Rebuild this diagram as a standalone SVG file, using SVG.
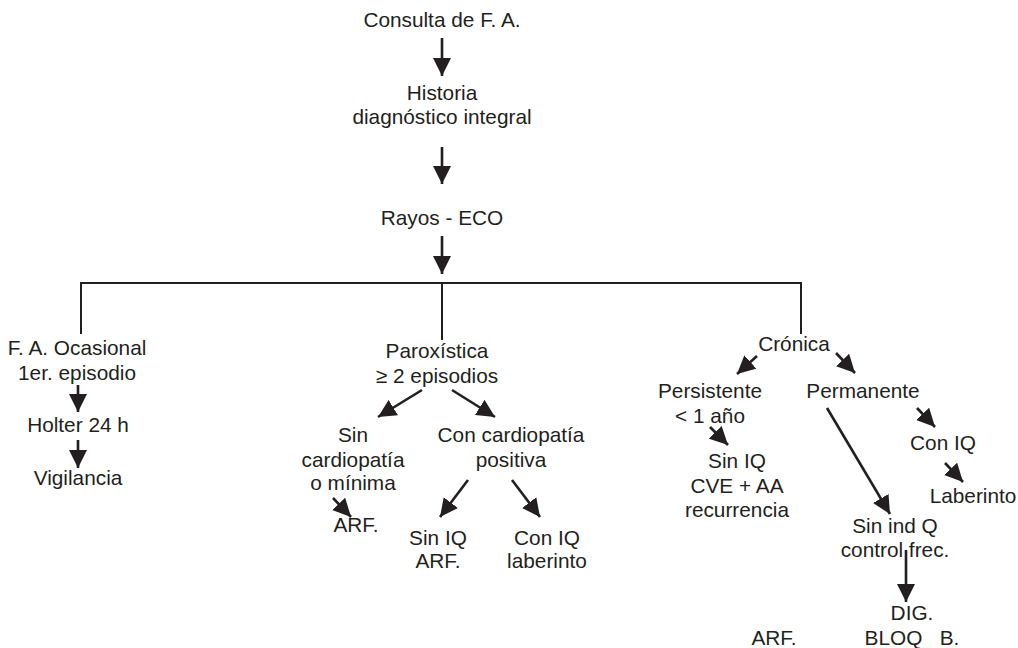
<svg xmlns="http://www.w3.org/2000/svg" width="1018" height="648" viewBox="0 0 1018 648">
<style>
text{font-family:"Liberation Sans",Arial,sans-serif;font-size:20.8px;fill:#231f20;text-anchor:middle}
.c line{stroke:#231f20;stroke-width:2.6;fill:none}
.c .h{stroke-width:2}
.c .a{marker-end:url(#ah)}
</style>
<defs>
<marker id="ah" markerUnits="userSpaceOnUse" markerWidth="19" markerHeight="19" refX="18" refY="9" orient="auto" viewBox="0 0 19 18">
<path d="M0,0 L18,9 L0,18 z" fill="#231f20"/>
</marker>
</defs>
<rect width="1018" height="648" fill="#fff"/>
<g id="connectors" class="c">
<line class="a" x1="442" y1="38" x2="442" y2="76"/>
<line class="a" x1="442" y1="147" x2="442" y2="184"/>
<line class="a" x1="442" y1="236" x2="442" y2="274"/>
<line class="h" x1="80" y1="283" x2="801" y2="283"/>
<line class="h" x1="81" y1="282" x2="81" y2="334"/>
<line class="h" x1="442" y1="283" x2="442" y2="340"/>
<line class="h" x1="801" y1="282" x2="801" y2="334"/>
<line class="a" x1="78" y1="385" x2="78" y2="412"/>
<line class="a" x1="78" y1="440" x2="78" y2="468"/>
<line class="a" x1="422" y1="390" x2="378" y2="417"/>
<line class="a" x1="452" y1="390" x2="495" y2="417"/>
<line class="a" x1="333" y1="498" x2="351" y2="517"/>
<line class="a" x1="468" y1="480" x2="440" y2="517"/>
<line class="a" x1="512" y1="480" x2="540" y2="517"/>
<line class="a" x1="757" y1="356" x2="737" y2="374"/>
<line class="a" x1="836" y1="353" x2="855" y2="373"/>
<line class="a" x1="710" y1="427" x2="728" y2="445"/>
<line class="a" x1="827" y1="408" x2="890" y2="514"/>
<line class="a" x1="917" y1="408" x2="935" y2="427"/>
<line class="a" x1="945" y1="463" x2="963" y2="482"/>
<line class="a" x1="906" y1="550" x2="906" y2="602"/>
</g>
<g id="n-consulta"><text x="442" y="27">Consulta de F. A.</text></g>
<g id="n-historia"><text x="442" y="100">Historia</text><text x="442" y="124">diagnóstico integral</text></g>
<g id="n-rayos"><text x="442" y="225">Rayos - ECO</text></g>
<g id="n-ocasional"><text x="77" y="355">F. A. Ocasional</text><text x="77" y="380">1er. episodio</text></g>
<g id="n-holter"><text x="78" y="432">Holter 24 h</text></g>
<g id="n-vigilancia"><text x="78" y="485">Vigilancia</text></g>
<g id="n-paroxistica"><text x="437" y="358">Paroxística</text><text x="437" y="383">≥ 2 episodios</text></g>
<g id="n-sincardio"><text x="353" y="442">Sin</text><text x="353" y="467">cardiopatía</text><text x="353" y="490">o mínima</text></g>
<g id="n-arf1"><text x="356" y="532">ARF.</text></g>
<g id="n-concardio"><text x="511" y="442">Con cardiopatía</text><text x="511" y="467">positiva</text></g>
<g id="n-siniq1"><text x="438" y="545">Sin IQ</text><text x="438" y="568">ARF.</text></g>
<g id="n-coniq1"><text x="547" y="545">Con IQ</text><text x="547" y="568">laberinto</text></g>
<g id="n-cronica"><text x="794" y="351">Crónica</text></g>
<g id="n-persistente"><text x="710" y="398">Persistente</text><text x="710" y="423">&lt; 1 año</text></g>
<g id="n-siniq2"><text x="737" y="468">Sin IQ</text><text x="737" y="493">CVE + AA</text><text x="737" y="517">recurrencia</text></g>
<g id="n-permanente"><text x="863" y="398">Permanente</text></g>
<g id="n-coniq2"><text x="943" y="450">Con IQ</text></g>
<g id="n-laberinto"><text x="973" y="503">Laberinto</text></g>
<g id="n-sinindq"><text x="895" y="533">Sin ind Q</text><text x="895" y="557">control frec.</text></g>
<g id="n-dig"><text x="912" y="620">DIG.</text><text x="912" y="645" xml:space="preserve">BLOQ   B.</text></g>
<g id="n-arf3"><text x="774" y="645">ARF.</text></g>
</svg>
